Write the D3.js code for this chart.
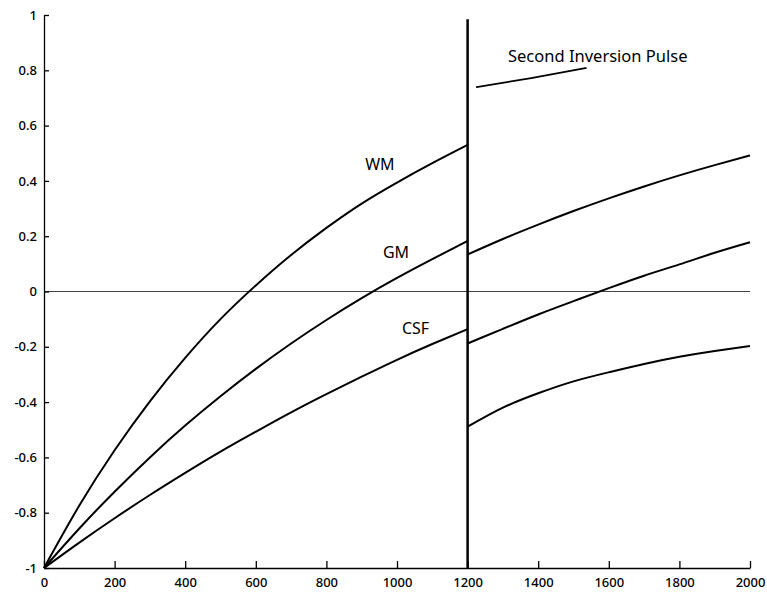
<!DOCTYPE html>
<html>
<script src="https://d3js.org/d3.v7.min.js"></script>
<style>
  body { margin: 0; background: white; }
  text { font-family: "Noto Sans", "Open Sans", sans-serif; }
</style>
<body>
<svg id="chart" width="767" height="595"></svg>
<script>
// time points (ms) before and after the second inversion pulse
var tBefore = [0, 100, 200, 300, 400, 500, 600, 700, 800, 900, 1000, 1100, 1200];
var tAfter = [1200, 1300, 1400, 1500, 1600, 1700, 1800, 1900, 2000];

// longitudinal magnetisation
var wmBefore = [-1, -0.774, -0.574, -0.397, -0.24, -0.1, 0.022, 0.132, 0.23, 0.318, 0.394, 0.464, 0.53];
var gmBefore = [-1, -0.857, -0.724, -0.60, -0.485, -0.379, -0.28, -0.188, -0.103, -0.024, 0.049, 0.117, 0.183];
var csfBefore = [-1, -0.908, -0.82, -0.736, -0.656, -0.579, -0.507, -0.437, -0.371, -0.308, -0.247, -0.19, -0.136];

var topAfter = [0.134, 0.19, 0.242, 0.291, 0.337, 0.38, 0.42, 0.457, 0.492];
var midAfter = [-0.188, -0.135, -0.083, -0.035, 0.012, 0.057, 0.098, 0.14, 0.178];
var lowAfter = [-0.489, -0.42, -0.368, -0.325, -0.292, -0.262, -0.236, -0.215, -0.197];

var xTicks = [0, 200, 400, 600, 800, 1000, 1200, 1400, 1600, 1800, 2000];
var yTicks = [-1, -0.8, -0.6, -0.4, -0.2, 0, 0.2, 0.4, 0.6, 0.8, 1];

var labels = [
  {name: "WM", t: 910, v: 0.44},
  {name: "GM", t: 960, v: 0.12},
  {name: "CSF", t: 1014, v: -0.155}
];
var pulseText = "Second Inversion Pulse";
var pulseLine = [[1224, 0.739], [1380, 0.772], [1537, 0.809]];

var svg = d3.select("#chart");

var x = d3.scaleLinear().domain([0, 2000]).range([44, 750]);
var y = d3.scaleLinear().domain([-1, 1]).range([568, 15]);

// zero line
svg.append("line")
  .attr("x1", x(0)).attr("x2", x(2000))
  .attr("y1", y(0)).attr("y2", y(0))
  .style("stroke", "#444")
  .style("stroke-width", 1);

// y axis, ticks pointing inward
svg.append("g")
  .attr("transform", "translate(" + x(0) + ",0)")
  .call(d3.axisLeft(y).tickValues(yTicks).tickSizeInner(-5).tickSizeOuter(0)
    .tickPadding(7).tickFormat(function(d) { return String(d); }));

// x axis, ticks pointing up
svg.append("g")
  .attr("transform", "translate(0," + y(-1) + ")")
  .call(d3.axisBottom(x).tickValues(xTicks).tickSizeInner(-7).tickSizeOuter(0)
    .tickPadding(10).tickFormat(function(d) { return String(d); }));

svg.selectAll(".tick text")
  .style("font-size", "13px")
  .style("font-weight", 500)
  .style("fill", "black");
svg.selectAll(".domain, .tick line")
  .style("stroke", "black")
  .style("stroke-width", 1.3);

var line = d3.line()
  .x(function(d) { return x(d[0]); })
  .y(function(d) { return y(d[1]); })
  .curve(d3.curveNatural);

function draw(ts, vs) {
  svg.append("path")
    .datum(ts.map(function(t, i) { return [t, vs[i]]; }))
    .attr("d", line)
    .style("fill", "none")
    .style("stroke", "black")
    .style("stroke-width", 2);
}

draw(tBefore, wmBefore);
draw(tBefore, gmBefore);
draw(tBefore, csfBefore);
draw(tAfter, topAfter);
draw(tAfter, midAfter);
draw(tAfter, lowAfter);

// the second inversion pulse
svg.append("line")
  .attr("x1", x(1200)).attr("x2", x(1200))
  .attr("y1", y(0.985)).attr("y2", y(-1))
  .style("stroke", "black")
  .style("stroke-width", 2.5);

svg.append("path")
  .datum(pulseLine)
  .attr("d", line)
  .style("fill", "none")
  .style("stroke", "black")
  .style("stroke-width", 1.8);

svg.append("text")
  .attr("x", 508)
  .attr("y", 62)
  .style("font-size", "16.5px")
  .text(pulseText);

svg.selectAll(".lbl").data(labels).enter().append("text")
  .attr("class", "lbl")
  .attr("x", function(d) { return x(d.t); })
  .attr("y", function(d) { return y(d.v); })
  .style("font-size", "16px")
  .text(function(d) { return d.name; });
</script>
</body>
</html>
